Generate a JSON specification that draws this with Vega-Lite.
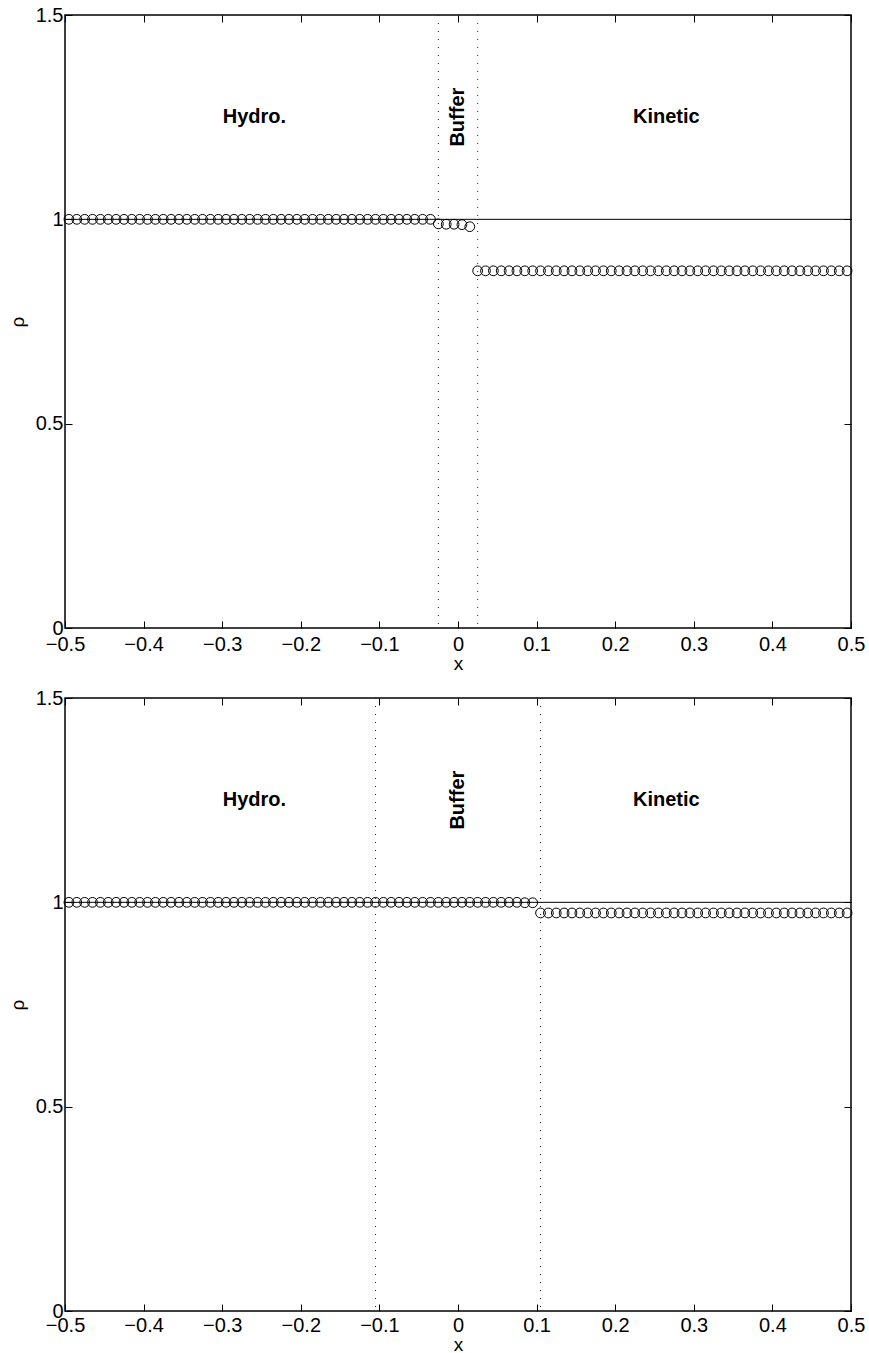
{
"$schema": "https://vega.github.io/schema/vega-lite/v6.json",
"padding": {"left": 7, "top": 4, "right": 18, "bottom": 2},
"bounds": "flush",
"spacing": 70,
"config": {
  "font": "Liberation Sans",
  "view": {"stroke": "black", "strokeWidth": 1.5},
  "axis": {"domain": false, "grid": false, "ticks": true, "tickSize": -7, "tickColor": "black", "tickWidth": 1, "labelFont": "Liberation Sans", "labelFontSize": 20, "labelColor": "black", "labelFlush": false, "labelOverlap": false, "titleFont": "Liberation Sans", "titleFontSize": 19, "titleFontWeight": "normal", "titleColor": "black"}
},
"datasets": {
  "top": [
    {"x":-0.495,"r":1},{"x":-0.485,"r":1},{"x":-0.475,"r":1},{"x":-0.465,"r":1},{"x":-0.455,"r":1},{"x":-0.445,"r":1},{"x":-0.435,"r":1},{"x":-0.425,"r":1},{"x":-0.415,"r":1},{"x":-0.405,"r":1},
    {"x":-0.395,"r":1},{"x":-0.385,"r":1},{"x":-0.375,"r":1},{"x":-0.365,"r":1},{"x":-0.355,"r":1},{"x":-0.345,"r":1},{"x":-0.335,"r":1},{"x":-0.325,"r":1},{"x":-0.315,"r":1},{"x":-0.305,"r":1},
    {"x":-0.295,"r":1},{"x":-0.285,"r":1},{"x":-0.275,"r":1},{"x":-0.265,"r":1},{"x":-0.255,"r":1},{"x":-0.245,"r":1},{"x":-0.235,"r":1},{"x":-0.225,"r":1},{"x":-0.215,"r":1},{"x":-0.205,"r":1},
    {"x":-0.195,"r":1},{"x":-0.185,"r":1},{"x":-0.175,"r":1},{"x":-0.165,"r":1},{"x":-0.155,"r":1},{"x":-0.145,"r":1},{"x":-0.135,"r":1},{"x":-0.125,"r":1},{"x":-0.115,"r":1},{"x":-0.105,"r":1},
    {"x":-0.095,"r":1},{"x":-0.085,"r":1},{"x":-0.075,"r":1},{"x":-0.065,"r":1},{"x":-0.055,"r":1},{"x":-0.045,"r":1},{"x":-0.035,"r":1},
    {"x":-0.025,"r":0.989},{"x":-0.015,"r":0.988},{"x":-0.005,"r":0.988},{"x":0.005,"r":0.987},{"x":0.015,"r":0.982},
    {"x":0.025,"r":0.874},{"x":0.035,"r":0.874},{"x":0.045,"r":0.874},{"x":0.055,"r":0.874},{"x":0.065,"r":0.874},{"x":0.075,"r":0.874},{"x":0.085,"r":0.874},{"x":0.095,"r":0.874},
    {"x":0.105,"r":0.874},{"x":0.115,"r":0.874},{"x":0.125,"r":0.874},{"x":0.135,"r":0.874},{"x":0.145,"r":0.874},{"x":0.155,"r":0.874},{"x":0.165,"r":0.874},{"x":0.175,"r":0.874},{"x":0.185,"r":0.874},{"x":0.195,"r":0.874},
    {"x":0.205,"r":0.874},{"x":0.215,"r":0.874},{"x":0.225,"r":0.874},{"x":0.235,"r":0.874},{"x":0.245,"r":0.874},{"x":0.255,"r":0.874},{"x":0.265,"r":0.874},{"x":0.275,"r":0.874},{"x":0.285,"r":0.874},{"x":0.295,"r":0.874},
    {"x":0.305,"r":0.874},{"x":0.315,"r":0.874},{"x":0.325,"r":0.874},{"x":0.335,"r":0.874},{"x":0.345,"r":0.874},{"x":0.355,"r":0.874},{"x":0.365,"r":0.874},{"x":0.375,"r":0.874},{"x":0.385,"r":0.874},{"x":0.395,"r":0.874},
    {"x":0.405,"r":0.874},{"x":0.415,"r":0.874},{"x":0.425,"r":0.874},{"x":0.435,"r":0.874},{"x":0.445,"r":0.874},{"x":0.455,"r":0.874},{"x":0.465,"r":0.874},{"x":0.475,"r":0.874},{"x":0.485,"r":0.874},{"x":0.495,"r":0.874}
  ],
  "bottom": [
    {"x":-0.495,"r":1},{"x":-0.485,"r":1},{"x":-0.475,"r":1},{"x":-0.465,"r":1},{"x":-0.455,"r":1},{"x":-0.445,"r":1},{"x":-0.435,"r":1},{"x":-0.425,"r":1},{"x":-0.415,"r":1},{"x":-0.405,"r":1},
    {"x":-0.395,"r":1},{"x":-0.385,"r":1},{"x":-0.375,"r":1},{"x":-0.365,"r":1},{"x":-0.355,"r":1},{"x":-0.345,"r":1},{"x":-0.335,"r":1},{"x":-0.325,"r":1},{"x":-0.315,"r":1},{"x":-0.305,"r":1},
    {"x":-0.295,"r":1},{"x":-0.285,"r":1},{"x":-0.275,"r":1},{"x":-0.265,"r":1},{"x":-0.255,"r":1},{"x":-0.245,"r":1},{"x":-0.235,"r":1},{"x":-0.225,"r":1},{"x":-0.215,"r":1},{"x":-0.205,"r":1},
    {"x":-0.195,"r":1},{"x":-0.185,"r":1},{"x":-0.175,"r":1},{"x":-0.165,"r":1},{"x":-0.155,"r":1},{"x":-0.145,"r":1},{"x":-0.135,"r":1},{"x":-0.125,"r":1},{"x":-0.115,"r":1},{"x":-0.105,"r":1},
    {"x":-0.095,"r":1},{"x":-0.085,"r":1},{"x":-0.075,"r":1},{"x":-0.065,"r":1},{"x":-0.055,"r":1},{"x":-0.045,"r":1},{"x":-0.035,"r":1},{"x":-0.025,"r":1},{"x":-0.015,"r":1},{"x":-0.005,"r":1},
    {"x":0.005,"r":1},{"x":0.015,"r":1},{"x":0.025,"r":1},{"x":0.035,"r":1},{"x":0.045,"r":1},{"x":0.055,"r":1},{"x":0.065,"r":1},{"x":0.075,"r":1},{"x":0.085,"r":0.999},{"x":0.095,"r":0.999},
    {"x":0.105,"r":0.974},{"x":0.115,"r":0.974},{"x":0.125,"r":0.974},{"x":0.135,"r":0.974},{"x":0.145,"r":0.974},{"x":0.155,"r":0.974},{"x":0.165,"r":0.974},{"x":0.175,"r":0.974},{"x":0.185,"r":0.974},{"x":0.195,"r":0.974},
    {"x":0.205,"r":0.974},{"x":0.215,"r":0.974},{"x":0.225,"r":0.974},{"x":0.235,"r":0.974},{"x":0.245,"r":0.974},{"x":0.255,"r":0.974},{"x":0.265,"r":0.974},{"x":0.275,"r":0.974},{"x":0.285,"r":0.974},{"x":0.295,"r":0.974},
    {"x":0.305,"r":0.974},{"x":0.315,"r":0.974},{"x":0.325,"r":0.974},{"x":0.335,"r":0.974},{"x":0.345,"r":0.974},{"x":0.355,"r":0.974},{"x":0.365,"r":0.974},{"x":0.375,"r":0.974},{"x":0.385,"r":0.974},{"x":0.395,"r":0.974},
    {"x":0.405,"r":0.974},{"x":0.415,"r":0.974},{"x":0.425,"r":0.974},{"x":0.435,"r":0.974},{"x":0.445,"r":0.974},{"x":0.455,"r":0.974},{"x":0.465,"r":0.974},{"x":0.475,"r":0.974},{"x":0.485,"r":0.974},{"x":0.495,"r":0.974}
  ],
  "labels": [{"x":-0.259,"r":1.25,"t":"Hydro."},{"x":0.265,"r":1.25,"t":"Kinetic"}],
  "buffer": [{"x":0.0,"r":1.25,"t":"Buffer"}],
  "exact": [{"r":1}]
},
"vconcat": [
  {
    "width": 786, "height": 613,
    "layer": [
      {"data": {"name": "exact"}, "mark": {"type": "rule", "color": "black", "strokeWidth": 1},
       "encoding": {"y": {"field": "r", "type": "quantitative", "scale": {"domain": [0, 1.5], "nice": false}, "axis": null}}},
      {"data": {"values": [{"b": -0.025}, {"b": 0.025}]}, "mark": {"type": "rule", "color": "#222222", "strokeWidth": 1, "strokeDash": [1, 7]},
       "encoding": {"x": {"field": "b", "type": "quantitative", "scale": {"domain": [-0.5, 0.5], "nice": false}, "axis": null}}},
      {"data": {"name": "top"}, "mark": {"type": "point", "shape": "circle", "filled": false, "color": "black", "strokeWidth": 1, "size": 95, "opacity": 1},
       "encoding": {
         "x": {"field": "x", "type": "quantitative", "scale": {"domain": [-0.5, 0.5], "nice": false},
               "axis": {"orient": "bottom", "title": "x", "values": [-0.5,-0.4,-0.3,-0.2,-0.1,0,0.1,0.2,0.3,0.4,0.5], "format": "~g", "labelPadding": 13, "titlePadding": 0}},
         "y": {"field": "r", "type": "quantitative", "scale": {"domain": [0, 1.5], "nice": false},
               "axis": {"orient": "left", "title": "ρ", "values": [0, 0.5, 1, 1.5], "format": "~g", "labelPadding": 9, "titlePadding": 8,
                        "encode": {"labels": {"update": {"dy": {"signal": "datum.value === 0 ? -6 : 0"}}}}}}}},
      {"data": {"name": "labels"}, "mark": {"type": "text", "fontWeight": "bold", "fontSize": 20, "color": "black", "font": "Liberation Sans"},
       "encoding": {
         "x": {"field": "x", "type": "quantitative", "scale": {"domain": [-0.5, 0.5], "nice": false},
               "axis": {"orient": "top", "labels": false, "title": null, "values": [-0.5,-0.4,-0.3,-0.2,-0.1,0,0.1,0.2,0.3,0.4,0.5]}},
         "y": {"field": "r", "type": "quantitative", "scale": {"domain": [0, 1.5], "nice": false},
               "axis": {"orient": "right", "labels": false, "title": null, "values": [0, 0.5, 1, 1.5]}},
         "text": {"field": "t"}}},
      {"data": {"name": "buffer"}, "mark": {"type": "text", "fontWeight": "bold", "fontSize": 20, "color": "black", "angle": 270, "font": "Liberation Sans"},
       "encoding": {
         "x": {"field": "x", "type": "quantitative", "scale": {"domain": [-0.5, 0.5], "nice": false}, "axis": null},
         "y": {"field": "r", "type": "quantitative", "scale": {"domain": [0, 1.5], "nice": false}, "axis": null},
         "text": {"field": "t"}}}
    ],
    "resolve": {"axis": {"x": "independent", "y": "independent"}}
  },
  {
    "width": 786, "height": 613,
    "layer": [
      {"data": {"name": "exact"}, "mark": {"type": "rule", "color": "black", "strokeWidth": 1},
       "encoding": {"y": {"field": "r", "type": "quantitative", "scale": {"domain": [0, 1.5], "nice": false}, "axis": null}}},
      {"data": {"values": [{"b": -0.105}, {"b": 0.105}]}, "mark": {"type": "rule", "color": "#222222", "strokeWidth": 1, "strokeDash": [1, 7]},
       "encoding": {"x": {"field": "b", "type": "quantitative", "scale": {"domain": [-0.5, 0.5], "nice": false}, "axis": null}}},
      {"data": {"name": "bottom"}, "mark": {"type": "point", "shape": "circle", "filled": false, "color": "black", "strokeWidth": 1, "size": 95, "opacity": 1},
       "encoding": {
         "x": {"field": "x", "type": "quantitative", "scale": {"domain": [-0.5, 0.5], "nice": false},
               "axis": {"orient": "bottom", "title": "x", "values": [-0.5,-0.4,-0.3,-0.2,-0.1,0,0.1,0.2,0.3,0.4,0.5], "format": "~g", "labelPadding": 11, "titlePadding": 0}},
         "y": {"field": "r", "type": "quantitative", "scale": {"domain": [0, 1.5], "nice": false},
               "axis": {"orient": "left", "title": "ρ", "values": [0, 0.5, 1, 1.5], "format": "~g", "labelPadding": 9, "titlePadding": 8,
                        "encode": {"labels": {"update": {"dy": {"signal": "datum.value === 0 ? -6 : 0"}}}}}}}},
      {"data": {"name": "labels"}, "mark": {"type": "text", "fontWeight": "bold", "fontSize": 20, "color": "black", "font": "Liberation Sans"},
       "encoding": {
         "x": {"field": "x", "type": "quantitative", "scale": {"domain": [-0.5, 0.5], "nice": false},
               "axis": {"orient": "top", "labels": false, "title": null, "values": [-0.5,-0.4,-0.3,-0.2,-0.1,0,0.1,0.2,0.3,0.4,0.5]}},
         "y": {"field": "r", "type": "quantitative", "scale": {"domain": [0, 1.5], "nice": false},
               "axis": {"orient": "right", "labels": false, "title": null, "values": [0, 0.5, 1, 1.5]}},
         "text": {"field": "t"}}},
      {"data": {"name": "buffer"}, "mark": {"type": "text", "fontWeight": "bold", "fontSize": 20, "color": "black", "angle": 270, "font": "Liberation Sans"},
       "encoding": {
         "x": {"field": "x", "type": "quantitative", "scale": {"domain": [-0.5, 0.5], "nice": false}, "axis": null},
         "y": {"field": "r", "type": "quantitative", "scale": {"domain": [0, 1.5], "nice": false}, "axis": null},
         "text": {"field": "t"}}}
    ],
    "resolve": {"axis": {"x": "independent", "y": "independent"}}
  }
]
}
